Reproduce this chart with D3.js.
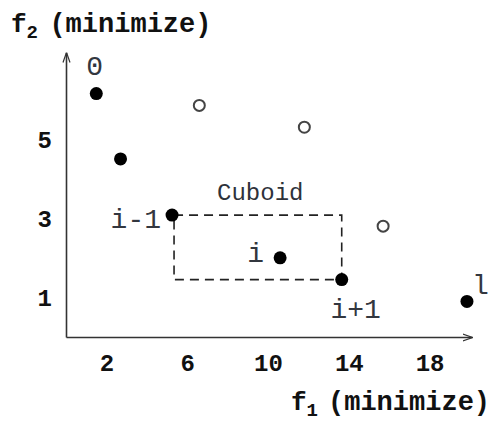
<!DOCTYPE html>
<html>
<head>
<meta charset="utf-8">
<script src="https://cdnjs.cloudflare.com/ajax/libs/d3/7.8.5/d3.min.js"></script>
<style>
  html, body { margin: 0; padding: 0; background: #fff; }
  svg { display: block; }
</style>
</head>
<body>
<div id="chart"></div>
<script>
// pareto front (filled) and dominated points (open)
const frontF1 = [1.5, 2.7, 5.25, 10.6, 13.65, 19.85]
const frontF2 = [6.15, 4.5, 3.08, 2.0, 1.45, 0.9]
const frontLabels = ["0", "", "i-1", "i", "i+1", "l"]
const otherF1 = [6.6, 11.8, 15.7]
const otherF2 = [5.85, 5.3, 2.8]
const xTicks = [2, 6, 10, 14, 18]
const yTicks = [1, 3, 5]

const W = 491, H = 428
const mono = "'Liberation Mono', 'Courier New', monospace"

const svg = d3.select("#chart").append("svg")
  .attr("width", W).attr("height", H)

const x = d3.scaleLinear().domain([0, 20.1]).range([66, 472])
const y = d3.scaleLinear().domain([0, 7.2]).range([337, 52])

svg.append("defs").append("marker")
  .attr("id", "arr").attr("viewBox", "0 0 10 10")
  .attr("refX", 10).attr("refY", 5)
  .attr("markerWidth", 10).attr("markerHeight", 10)
  .attr("markerUnits", "userSpaceOnUse")
  .attr("orient", "auto")
  .append("path").attr("d", "M0,1.5L10,5L0,8.5")
  .attr("fill", "none").attr("stroke", "#333").attr("stroke-width", 1.2)

// axes
const gx = svg.append("g").attr("transform", `translate(0,${y(0)})`)
  .call(d3.axisBottom(x).tickValues(xTicks).tickSize(0).tickSizeOuter(0))
gx.select(".domain").attr("stroke", "#333").attr("stroke-width", 1.6)
  .attr("marker-end", "url(#arr)")
gx.selectAll("text").attr("y", 26).attr("dy", "0.35em")
  .attr("font-family", mono).attr("font-weight", "bold")
  .attr("font-size", 24).attr("fill", "#111")

const gy = svg.append("g").attr("transform", `translate(${x(0)},0)`)
  .call(d3.axisLeft(y).tickValues(yTicks).tickSize(0).tickSizeOuter(0))
gy.select(".domain").attr("stroke", "#333").attr("stroke-width", 1.6)
  .attr("marker-end", "url(#arr)")
gy.selectAll("text").attr("x", -14).attr("dy", "0.35em")
  .attr("font-family", mono).attr("font-weight", "bold")
  .attr("font-size", 24).attr("fill", "#111")

// axis titles
function axisTitle(tx, ty, sub, gap) {
  const t = svg.append("text").attr("x", tx).attr("y", ty)
    .attr("font-family", mono).attr("font-weight", "bold").attr("fill", "#111")
  t.append("tspan").attr("font-size", 26).text("f")
  t.append("tspan").attr("font-size", 19).attr("dy", 6).text(sub)
  t.append("tspan").attr("font-size", 27).attr("dy", -6).attr("dx", gap).text("(minimize)")
}
axisTitle(11, 32, "2 ", 0)
axisTitle(291, 410, "1", 10)

// cuboid around point i
const ci = frontLabels.indexOf("i")
svg.append("rect")
  .attr("x", x(frontF1[ci - 1]) + 2).attr("y", y(frontF2[ci - 1]))
  .attr("width", x(frontF1[ci + 1]) - x(frontF1[ci - 1]) - 2)
  .attr("height", y(frontF2[ci + 1]) - y(frontF2[ci - 1]))
  .attr("fill", "none").attr("stroke", "#222").attr("stroke-width", 1.6)
  .attr("stroke-dasharray", "9,6")
svg.append("text")
  .attr("x", x(frontF1[ci - 1]) + 45).attr("y", y(frontF2[ci - 1]) - 15)
  .attr("font-family", mono).attr("font-size", 24).attr("fill", "#2e323a")
  .text("Cuboid")

// points
const front = frontF1.map((v, i) => ({ f1: v, f2: frontF2[i], label: frontLabels[i] }))
const other = otherF1.map((v, i) => ({ f1: v, f2: otherF2[i] }))

svg.append("g").selectAll("circle").data(other).join("circle")
  .attr("cx", d => x(d.f1)).attr("cy", d => y(d.f2)).attr("r", 5.5)
  .attr("fill", "#fff").attr("stroke", "#444").attr("stroke-width", 2)

svg.append("g").selectAll("circle").data(front).join("circle")
  .attr("cx", d => x(d.f1)).attr("cy", d => y(d.f2)).attr("r", 6.5)
  .attr("fill", "#000")

// label offsets relative to their point
const labelPos = {
  "0": [-10, -19, "start"],
  "i-1": [-11, 13, "end"],
  "i": [-16, 4, "end"],
  "i+1": [14, 38, "middle"],
  "l": [5, -7, "start"]
}
svg.append("g").selectAll("text").data(front.filter(d => d.label)).join("text")
  .attr("x", d => x(d.f1) + labelPos[d.label][0])
  .attr("y", d => y(d.f2) + labelPos[d.label][1])
  .attr("text-anchor", d => labelPos[d.label][2])
  .attr("font-family", mono).attr("font-size", 28).attr("fill", "#33373f")
  .text(d => d.label)
</script>
</body>
</html>
